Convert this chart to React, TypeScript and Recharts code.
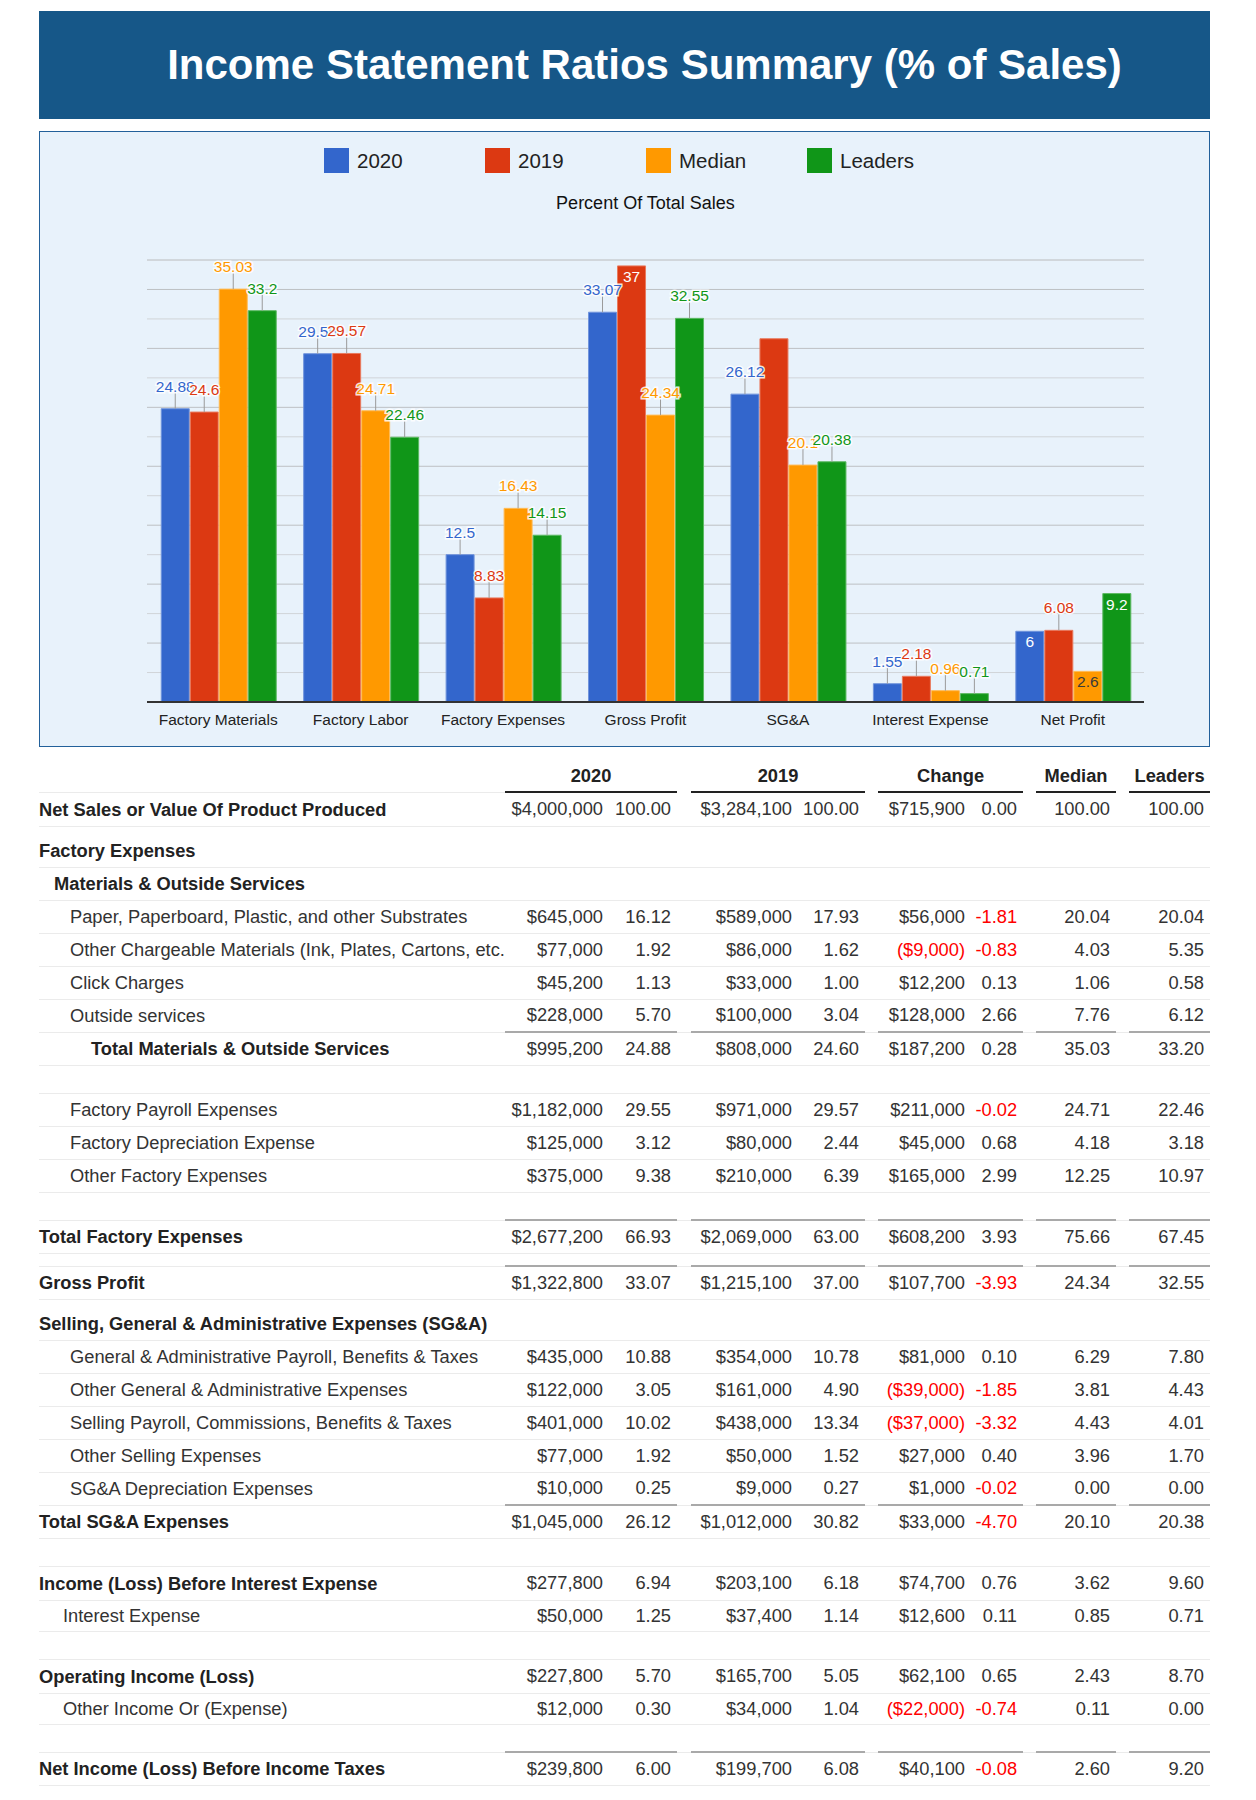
import React from "react";
import { Bar, BarChart, CartesianGrid, LabelList, ReferenceLine, XAxis, YAxis } from "recharts";

const FONT = "Arial, 'Liberation Sans', Helvetica, sans-serif";

// chart values (% of sales)
const categories = ["Factory Materials", "Factory Labor", "Factory Expenses", "Gross Profit", "SG&A", "Interest Expense", "Net Profit"];
const pct2020 = [24.88, 29.55, 12.5, 33.07, 26.12, 1.55, 6];
const pct2019 = [24.6, 29.57, 8.83, 37, 30.82, 2.18, 6.08];
const pctMedian = [35.03, 24.71, 16.43, 24.34, 20.1, 0.96, 2.6];
const pctLeaders = [33.2, 22.46, 14.15, 32.55, 20.38, 0.71, 9.2];

const majorTicks = [0, 5, 10, 15, 20, 25, 30, 35];
const minorTicks = [2.5, 7.5, 12.5, 17.5, 22.5, 27.5, 32.5, 37.5];

// table rows
const rowLabels = [
  "Net Sales or Value Of Product Produced",
  "Factory Expenses",
  "Materials & Outside Services",
  "Paper, Paperboard, Plastic, and other Substrates",
  "Other Chargeable Materials (Ink, Plates, Cartons, etc.",
  "Click Charges",
  "Outside services",
  "Total Materials & Outside Services",
  "",
  "Factory Payroll Expenses",
  "Factory Depreciation Expense",
  "Other Factory Expenses",
  "",
  "Total Factory Expenses",
  "",
  "Gross Profit",
  "Selling, General & Administrative Expenses (SG&A)",
  "General & Administrative Payroll, Benefits & Taxes",
  "Other General & Administrative Expenses",
  "Selling Payroll, Commissions, Benefits & Taxes",
  "Other Selling Expenses",
  "SG&A Depreciation Expenses",
  "Total SG&A Expenses",
  "",
  "Income (Loss) Before Interest Expense",
  "Interest Expense",
  "",
  "Operating Income (Loss)",
  "Other Income Or (Expense)",
  "",
  "Net Income (Loss) Before Income Taxes",
];
const rowKinds = [
  "major", "heading", "sub", "item", "item", "item", "item", "subtotal", "blank",
  "item", "item", "item", "blank", "total", "gap", "total", "heading",
  "item", "item", "item", "item", "item", "total", "blank",
  "major", "minor", "blank", "major", "minor", "blank", "total",
];
const N = null;
const dollars2020 = [4000000, N, N, 645000, 77000, 45200, 228000, 995200, N, 1182000, 125000, 375000, N, 2677200, N, 1322800, N, 435000, 122000, 401000, 77000, 10000, 1045000, N, 277800, 50000, N, 227800, 12000, N, 239800];
const ratio2020 = [100, N, N, 16.12, 1.92, 1.13, 5.7, 24.88, N, 29.55, 3.12, 9.38, N, 66.93, N, 33.07, N, 10.88, 3.05, 10.02, 1.92, 0.25, 26.12, N, 6.94, 1.25, N, 5.7, 0.3, N, 6.0];
const dollars2019 = [3284100, N, N, 589000, 86000, 33000, 100000, 808000, N, 971000, 80000, 210000, N, 2069000, N, 1215100, N, 354000, 161000, 438000, 50000, 9000, 1012000, N, 203100, 37400, N, 165700, 34000, N, 199700];
const ratio2019 = [100, N, N, 17.93, 1.62, 1.0, 3.04, 24.6, N, 29.57, 2.44, 6.39, N, 63.0, N, 37.0, N, 10.78, 4.9, 13.34, 1.52, 0.27, 30.82, N, 6.18, 1.14, N, 5.05, 1.04, N, 6.08];
const changeDollars = [715900, N, N, 56000, -9000, 12200, 128000, 187200, N, 211000, 45000, 165000, N, 608200, N, 107700, N, 81000, -39000, -37000, 27000, 1000, 33000, N, 74700, 12600, N, 62100, -22000, N, 40100];
const changeRatio = [0, N, N, -1.81, -0.83, 0.13, 2.66, 0.28, N, -0.02, 0.68, 2.99, N, 3.93, N, -3.93, N, 0.1, -1.85, -3.32, 0.4, -0.02, -4.7, N, 0.76, 0.11, N, 0.65, -0.74, N, -0.08];
const medianRatio = [100, N, N, 20.04, 4.03, 1.06, 7.76, 35.03, N, 24.71, 4.18, 12.25, N, 75.66, N, 24.34, N, 6.29, 3.81, 4.43, 3.96, 0.0, 20.1, N, 3.62, 0.85, N, 2.43, 0.11, N, 2.6];
const leadersRatio = [100, N, N, 20.04, 5.35, 0.58, 6.12, 33.2, N, 22.46, 3.18, 10.97, N, 67.45, N, 32.55, N, 7.8, 4.43, 4.01, 1.7, 0.0, 20.38, N, 9.6, 0.71, N, 8.7, 0.0, N, 9.2];

const series = [
  { key: "y2020", name: "2020", values: pct2020, fill: "#3366cc", edge: "#7094dc", inside: "#ffffff" },
  { key: "y2019", name: "2019", values: pct2019, fill: "#dc3912", edge: "#e97a5e", inside: "#ffffff" },
  { key: "median", name: "Median", values: pctMedian, fill: "#ff9900", edge: "#ffbb55", inside: "#3a3a3a" },
  { key: "leaders", name: "Leaders", values: pctLeaders, fill: "#109618", edge: "#5cb962", inside: "#ffffff" },
];

// labels that sit inside the top of their bar, and labels the original hides
const insideLabels: Record<string, string[]> = {
  y2020: ["Net Profit"],
  y2019: ["Gross Profit"],
  median: ["Net Profit"],
  leaders: ["Net Profit"],
};
const hiddenLabels: Record<string, string[]> = {
  y2019: ["SG&A"],
};

const chartData = categories.map((category, i) => {
  const row: Record<string, any> = { category };
  series.forEach((s) => (row[s.key] = s.values[i]));
  return row;
});

function makeLabel(s: (typeof series)[number]) {
  return (props: any) => {
    const { x, y, width, value, index } = props;
    const cat = categories[index];
    if ((hiddenLabels[s.key] || []).includes(cat)) return null;
    const cx = Number(x) + Number(width) / 2;
    const top = Number(y);
    if ((insideLabels[s.key] || []).includes(cat)) {
      return (
        <text x={cx} y={top + 16} textAnchor="middle" fontSize={15.5} fontFamily={FONT} fill={s.inside}>
          {value}
        </text>
      );
    }
    return (
      <g>
        <line x1={cx} x2={cx} y1={top} y2={top - 16} stroke="#9a9a9a" strokeWidth={1} />
        <text
          x={cx}
          y={top - 17}
          textAnchor="middle"
          fontSize={15.5}
          fontFamily={FONT}
          fill={s.fill}
          stroke="#ffffff"
          strokeWidth={3}
          strokeOpacity={0.85}
          paintOrder="stroke"
        >
          {value}
        </text>
      </g>
    );
  };
}

const money = (v: number) => (v < 0 ? `($${Math.abs(v).toLocaleString("en-US")})` : `$${v.toLocaleString("en-US")}`);
const ratio = (v: number) => v.toFixed(2);

const colWidths = [466, 104, 68, 14, 107, 67, 13, 93, 52, 13, 80, 13, 81];

const kindStyle: Record<string, { h: number; bold?: boolean; indent?: number; total?: boolean; bottom?: boolean }> = {
  major: { h: 34, bold: true, indent: 0 },
  heading: { h: 41, bold: true, indent: 0, bottom: true },
  sub: { h: 33, bold: true, indent: 15 },
  item: { h: 33, indent: 31 },
  minor: { h: 31, indent: 24 },
  subtotal: { h: 33, bold: true, indent: 52, total: true },
  total: { h: 33, bold: true, indent: 0, total: true },
  blank: { h: 28 },
  gap: { h: 13 },
};

const SEP = "1px solid #ebebeb";

function Table() {
  const cell: React.CSSProperties = {
    borderBottom: SEP,
    padding: "0 6px 0 0",
    textAlign: "right",
    whiteSpace: "nowrap",
    verticalAlign: "middle",
  };
  const head: React.CSSProperties = {
    borderBottom: "2px solid #222",
    textAlign: "center",
    fontWeight: "bold",
    color: "#222",
    padding: 0,
  };
  return (
    <table
      style={{
        position: "absolute",
        left: 39,
        top: 760,
        width: 1171,
        borderCollapse: "collapse",
        tableLayout: "fixed",
        fontSize: 18.3,
        color: "#333",
        fontFamily: FONT,
      }}
    >
      <colgroup>
        {colWidths.map((w, i) => (
          <col key={i} style={{ width: w }} />
        ))}
      </colgroup>
      <tbody>
        <tr style={{ height: 32 }}>
          <td style={{ borderBottom: SEP }} />
          <td colSpan={2} style={head}>2020</td>
          <td />
          <td colSpan={2} style={head}>2019</td>
          <td />
          <td colSpan={2} style={head}>Change</td>
          <td />
          <td style={head}>Median</td>
          <td />
          <td style={head}>Leaders</td>
        </tr>
        {rowLabels.map((label, i) => {
          const k = kindStyle[rowKinds[i]];
          const hasValues = dollars2020[i] !== null;
          const grp: React.CSSProperties = k.total ? { ...cell, borderTop: "2px solid #a9a9a9" } : cell;
          const red: React.CSSProperties = { color: "#ff0000" };
          const labelStyle: React.CSSProperties = {
            borderBottom: SEP,
            paddingLeft: k.indent || 0,
            fontWeight: k.bold ? "bold" : "normal",
            color: k.bold ? "#222" : "#333",
            whiteSpace: "nowrap",
            verticalAlign: k.bottom ? "bottom" : "middle",
            paddingBottom: k.bottom ? 5 : 0,
          };
          return (
            <tr key={i} style={{ height: k.h }}>
              <td style={labelStyle}>{label}</td>
              {hasValues ? (
                <>
                  <td style={grp}>{money(dollars2020[i] as number)}</td>
                  <td style={grp}>{ratio(ratio2020[i] as number)}</td>
                  <td style={cell} />
                  <td style={grp}>{money(dollars2019[i] as number)}</td>
                  <td style={grp}>{ratio(ratio2019[i] as number)}</td>
                  <td style={cell} />
                  <td style={{ ...grp, ...((changeDollars[i] as number) < 0 ? red : {}) }}>
                    {money(changeDollars[i] as number)}
                  </td>
                  <td style={{ ...grp, ...((changeRatio[i] as number) < 0 ? red : {}) }}>
                    {ratio(changeRatio[i] as number)}
                  </td>
                  <td style={cell} />
                  <td style={grp}>{ratio(medianRatio[i] as number)}</td>
                  <td style={cell} />
                  <td style={grp}>{ratio(leadersRatio[i] as number)}</td>
                </>
              ) : (
                colWidths.slice(1).map((_, j) => <td key={j} style={cell} />)
              )}
            </tr>
          );
        })}
      </tbody>
    </table>
  );
}

function RatioChart() {
  return (
    <div
      style={{
        position: "absolute",
        left: 39,
        top: 131,
        width: 1171,
        height: 616,
        boxSizing: "border-box",
        border: "1px solid #22609a",
        background: "#e8f2fb",
      }}
    >
      <div style={{ position: "absolute", left: 284, top: 16, display: "flex", alignItems: "center" }}>
        {series.map((s) => (
          <div key={s.key} style={{ width: 161, display: "flex", alignItems: "center" }}>
            <div style={{ width: 25, height: 25, background: s.fill }} />
            <span style={{ marginLeft: 8, fontSize: 20.5, color: "#222" }}>{s.name}</span>
          </div>
        ))}
      </div>
      <div
        style={{
          position: "absolute",
          left: 107,
          width: 997,
          top: 60,
          lineHeight: "22px",
          fontSize: 18,
          textAlign: "center",
          color: "#111",
        }}
      >
        Percent Of Total Sales
      </div>
      <BarChart
        width={1169}
        height={614}
        data={chartData}
        margin={{ top: 128, right: 65, bottom: 14, left: 107 }}
        barCategoryGap="10%"
        barGap={1}
      >
        <YAxis hide domain={[0, 37.5]} ticks={majorTicks} allowDataOverflow />
        <CartesianGrid vertical={false} stroke="#bdc0c3" />
        {minorTicks.map((t) => (
          <ReferenceLine key={t} y={t} stroke="#d0d4d8" strokeWidth={1} zIndex={-50} />
        ))}
        <XAxis
          dataKey="category"
          height={30}
          interval={0}
          tickLine={false}
          tickMargin={6}
          axisLine={{ stroke: "#333", strokeWidth: 2 }}
          tick={{ fontSize: 15.5, fill: "#222", fontFamily: FONT }}
        />
        {series.map((s) => (
          <Bar
            key={s.key}
            dataKey={s.key}
            name={s.name}
            fill={s.fill}
            stroke={s.edge}
            strokeWidth={1}
            isAnimationActive={false}
          >
            <LabelList dataKey={s.key} content={makeLabel(s)} />
          </Bar>
        ))}
      </BarChart>
    </div>
  );
}

export default function App() {
  return (
    <div style={{ position: "relative", width: 1256, height: 1800, background: "#fff", fontFamily: FONT }}>
      <style>{"body{margin:0}"}</style>
      <div
        style={{
          position: "absolute",
          left: 39,
          top: 11,
          width: 1171,
          height: 108,
          boxSizing: "border-box",
          paddingLeft: 40,
          background: "#165788",
          color: "#fff",
          fontWeight: "bold",
          fontSize: 42,
          display: "flex",
          alignItems: "center",
          justifyContent: "center",
        }}
      >
        Income Statement Ratios Summary (% of Sales)
      </div>
      <RatioChart />
      <Table />
    </div>
  );
}
